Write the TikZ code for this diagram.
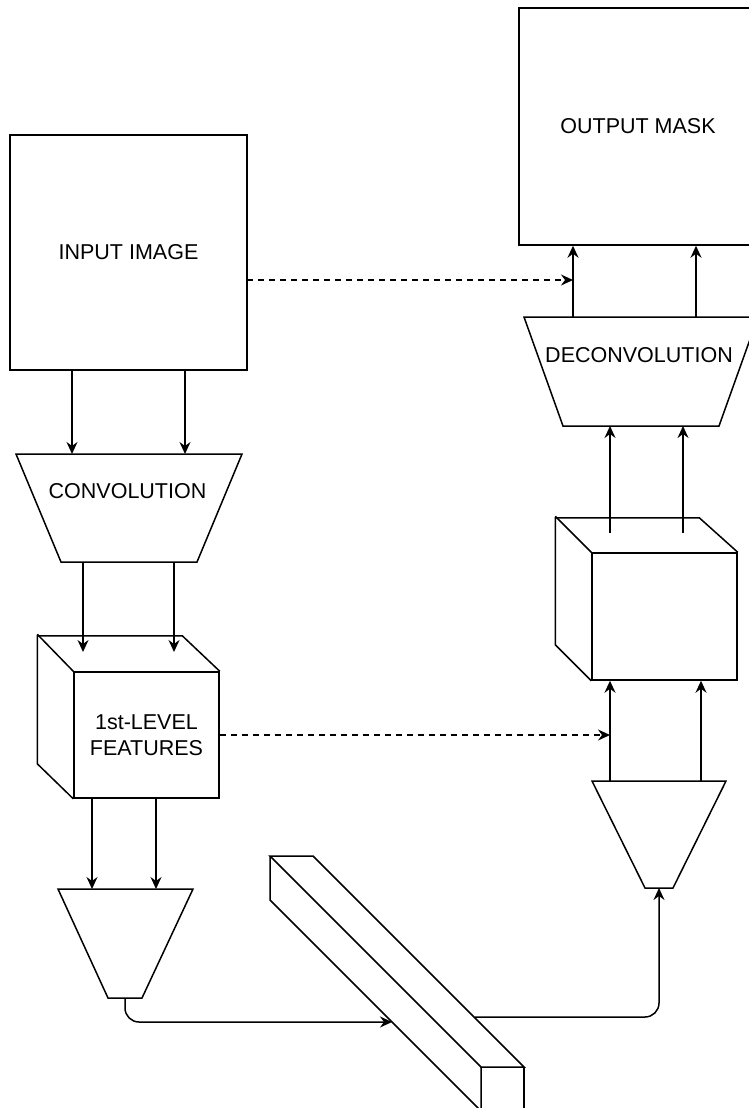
\documentclass[tikz,border=0pt]{standalone}
\usepackage{fontspec}
\setmainfont{Liberation Sans}
\usetikzlibrary{arrows.meta}
\begin{document}
\begin{tikzpicture}[x=1pt,y=-1pt,
  line/.style={line width=1.5pt, line join=miter},
  arr/.style={line width=1.5pt, -{Stealth[length=12pt,width=11pt,inset=4pt]}},
  dasharr/.style={arr, dash pattern=on 6pt off 5pt},
  lbl/.style={font=\fontsize{21.5}{26}\selectfont, align=center, inner sep=0pt},
  box/.style={lbl, draw, line width=1.5pt, fill=white}]

\useasboundingbox (0,0) rectangle (749,1108);
\clip (0,0) rectangle (749,1108);

% ---------- encoder side ----------
\node[box, minimum width=237pt, minimum height=235pt] (input) at (128.5,252.5) {INPUT IMAGE};

% convolution block
\draw[line] (16,454) -- (242,454) -- (197,562) -- (61,562) -- cycle;
\node[lbl] (convlbl) at (127.5,491) {CONVOLUTION};
\coordinate (convA) at (72,454);
\coordinate (convB) at (185,454);
\coordinate (convC) at (83,562);
\coordinate (convD) at (174,562);
\draw[arr] (input.south -| convA) -- (convA);
\draw[arr] (input.south -| convB) -- (convB);

% first-level feature cube
\node[box, minimum width=145pt, minimum height=126pt] (feat) at (146.5,735) {1st-LEVEL\\FEATURES};
\draw[line] (feat.south west) -- ++(-36,-35) -- ++(0,-128) -- ++(145,0) -- (feat.north east);
\draw[line] (feat.north west) -- ++(-36,-37);
\coordinate (featA) at (83,652);
\coordinate (featB) at (174,652);
\draw[arr] (convC) -- (featA);
\draw[arr] (convD) -- (featB);

% pooling block
\draw[line] (58,889) -- (193,889) -- (142,998) -- (108,998) -- cycle;
\coordinate (poolA) at (92,889);
\coordinate (poolB) at (156,889);
\coordinate (poolout) at (125,998);
\draw[arr] (feat.south -| poolA) -- (poolA);
\draw[arr] (feat.south -| poolB) -- (poolB);

% bottleneck bar
\draw[line] (270,856) -- (313,856) -- (524,1067) -- (481,1067) -- cycle;
\draw[line] (270,856) -- (270,900) -- (481,1111) -- (481,1067);
\draw[line] (524,1067) -- (524,1111) -- (481,1111);
\coordinate (barin) at (392,1022);
\coordinate (barout) at (475,1017);
\draw[arr, rounded corners=14pt] (poolout) |- (barin);

% ---------- decoder side ----------
% unpooling block
\draw[line] (592,781) -- (726,781) -- (673,888) -- (645,888) -- cycle;
\coordinate (upA) at (610,781);
\coordinate (upB) at (701,781);
\coordinate (upin) at (659,888);
\draw[arr, rounded corners=14pt] (barout) -| (upin);

% decoder feature cube
\node[box, minimum width=145pt, minimum height=127pt] (dec) at (664.5,616.5) {};
\draw[line] (dec.south west) -- ++(-36,-36) -- ++(0,-127) -- ++(144,0) -- (dec.north east);
\draw[line] (dec.north west) -- ++(-36,-36);
\draw[arr] (upA) -- (upA |- dec.south);
\draw[arr] (upB) -- (upB |- dec.south);

% deconvolution block
\draw[line] (524,317) -- (758,317) -- (719,426) -- (563,426) -- cycle;
\node[lbl] (deconvlbl) at (639,355) {DECONVOLUTION};
\coordinate (decA) at (610,533);
\coordinate (decB) at (683,533);
\coordinate (deconvA) at (610,426);
\coordinate (deconvB) at (683,426);
\coordinate (deconvC) at (573,317);
\coordinate (deconvD) at (696,317);
\draw[arr] (decA) -- (deconvA);
\draw[arr] (decB) -- (deconvB);

% output
\node[box, minimum width=238pt, minimum height=237pt] (mask) at (638,126.5) {OUTPUT MASK};
\draw[arr] (deconvC) -- (deconvC |- mask.south);
\draw[arr] (deconvD) -- (deconvD |- mask.south);

% skip connections
\coordinate (skip0) at (247,280);
\draw[dasharr] (skip0) -- (skip0 -| deconvC);
\draw[dasharr] (feat.east) -- (feat.east -| upA);

\end{tikzpicture}
\end{document}
